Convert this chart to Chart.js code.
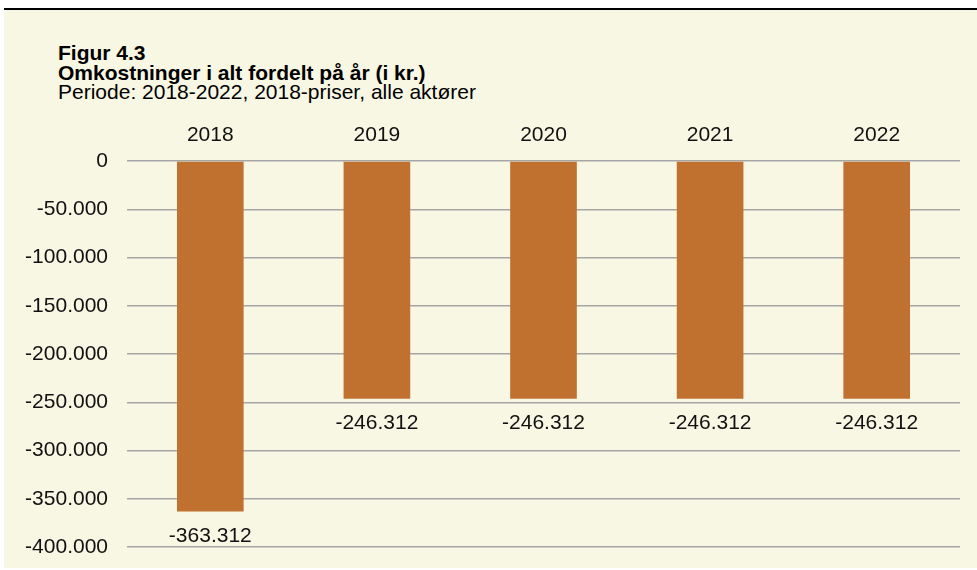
<!DOCTYPE html>
<html lang="da">
<head>
    <meta charset="UTF-8">
    <title>Figur 4.3</title>
    <style>
        body { margin: 0; background: #fff; width: 977px; height: 570px; overflow: hidden; font-family: "Liberation Sans", Arial, sans-serif; }
        .panel { position: absolute; left: 4px; top: 8px; width: 973px; height: 560px; background: #f8f7e3; border-top: 2px solid #000; box-sizing: border-box; }
        .title { position: absolute; left: 58px; top: 43px; font-size: 21px; line-height: 19.5px; color: #000; }
        .title b { font-weight: bold; }
        canvas { position: absolute; left: 0; top: 0; }
    </style>
</head>
<body>
    <div class="panel"></div>
    <div class="title">
        <b>Figur 4.3</b><br>
        <b>Omkostninger i alt fordelt på år (i kr.)</b><br>
        Periode: 2018-2022, 2018-priser, alle aktører
    </div>
    <canvas id="chart" width="977" height="570"></canvas>
    <script src="https://cdn.jsdelivr.net/npm/chart.js"></script>
    <script>
const years = ['2018', '2019', '2020', '2021', '2022'];
const costs = [-363312, -246312, -246312, -246312, -246312];
const yMin = -400000;
const yMax = 0;
const yStep = 50000;

function fmt(v) {
    const s = Math.abs(v).toString().replace(/\B(?=(\d{3})+(?!\d))/g, '.');
    return (v < 0 ? '-' : '') + s;
}

const fontFamily = '"Liberation Sans", Arial, sans-serif';

// labels under each bar
const barLabels = {
    id: 'barLabels',
    afterDatasetsDraw(chart) {
        const ctx = chart.ctx;
        const meta = chart.getDatasetMeta(0);
        ctx.save();
        ctx.font = '21px ' + fontFamily;
        ctx.fillStyle = '#111';
        ctx.textAlign = 'center';
        ctx.textBaseline = 'middle';
        meta.data.forEach((bar, i) => {
            ctx.fillText(fmt(costs[i]), bar.x, bar.y + 25);
        });
        ctx.restore();
    }
};

const ctx = document.getElementById('chart').getContext('2d');
new Chart(ctx, {
    type: 'bar',
    data: {
        labels: years,
        datasets: [{
            data: costs,
            backgroundColor: '#c0702f',
            barPercentage: 0.4,
            categoryPercentage: 1
        }]
    },
    options: {
        responsive: false,
        animation: false,
        devicePixelRatio: 1,
        layout: { padding: { left: 0, right: 17, top: 100, bottom: 23 } },
        plugins: {
            legend: { display: false },
            tooltip: { enabled: false }
        },
        scales: {
            x: {
                position: 'top',
                grid: { display: false, drawTicks: false },
                border: { display: false },
                ticks: { color: '#111', font: { family: fontFamily, size: 21 }, padding: 13 },
                afterFit(scale) { scale.height = 61; }
            },
            y: {
                min: yMin,
                max: yMax,
                grid: { color: '#a6a6a6', lineWidth: 1.5, drawTicks: false },
                border: { display: false },
                ticks: {
                    stepSize: yStep,
                    color: '#111',
                    font: { family: fontFamily, size: 21 },
                    padding: 19,
                    callback: (v) => fmt(v)
                },
                afterFit(scale) {
                    scale.width = 127;
                    scale.paddingTop = 0;
                    scale.paddingBottom = 0;
                }
            }
        }
    },
    plugins: [barLabels]
});
    </script>
</body>
</html>
